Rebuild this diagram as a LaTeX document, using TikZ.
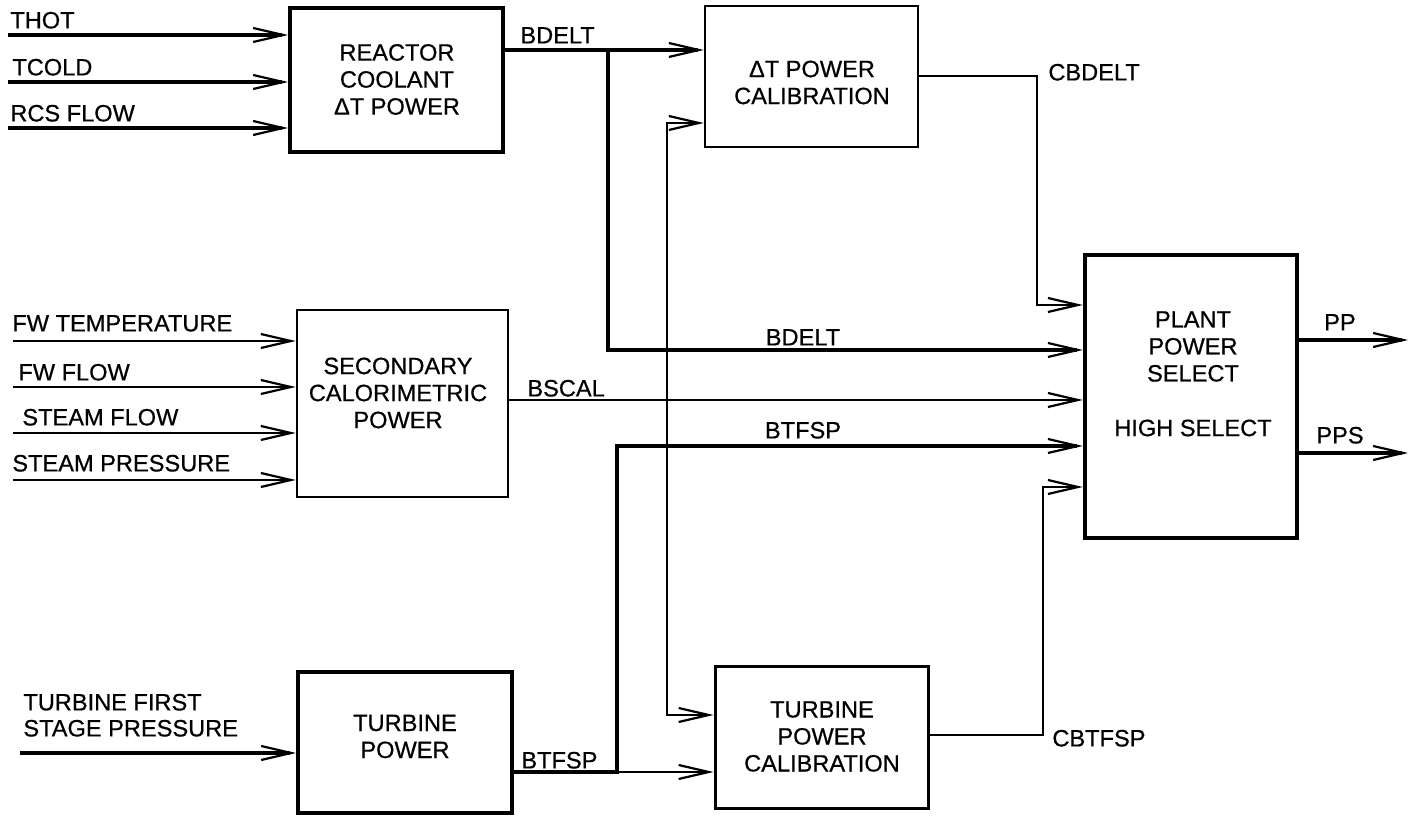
\documentclass[tikz,border=0pt]{standalone}
\usepackage{fontspec}
\setmainfont{Liberation Sans}[FakeBold=0.6]
\usetikzlibrary{arrows.meta}
\begin{document}
\begin{tikzpicture}[x=0.5pt,y=-0.5pt,
  every node/.style={font=\fontsize{11.8}{13.5}\selectfont, inner sep=0pt},
  lbl/.style={anchor=base west},
  lblc/.style={anchor=base},
  btxt/.style={align=center, anchor=center},
  boxthick/.style={draw, line width=2pt, rectangle},
  boxthin/.style={draw, line width=1.3pt, rectangle},
  thickline/.style={line width=2pt},
  medline/.style={line width=1.3pt},
  thinline/.style={line width=1.1pt},
  arr/.style={-{Straight Barb[length=15pt,width=7pt,line width=1.1pt]}},
  arrboth/.style={{Straight Barb[length=15pt,width=7pt,line width=1.1pt]}-{Straight Barb[length=15pt,width=7pt,line width=1.1pt]}}
]
\fill[white] (0,0) rectangle (1409,817);
\useasboundingbox (0,0) rectangle (1409,817);

% boxes
\node[boxthick, minimum width=106.5pt, minimum height=72pt] (reactor) at (396.5,80) {};
\node[boxthin, minimum width=106.5pt, minimum height=70.5pt] (dtcal) at (811.5,76.5) {};
\node[boxthin, minimum width=105.5pt, minimum height=93.5pt] (secondary) at (402.5,403.5) {};
\node[boxthick, minimum width=107pt, minimum height=70.5pt] (turbine) at (405,742.5) {};
\node[draw, line width=1.5pt, minimum width=106.5pt, minimum height=70.5pt] (tpcal) at (821.5,737.5) {};
\node[draw, line width=2.2pt, minimum width=106pt, minimum height=141.5pt] (plant) at (1191,396.5) {};

% box texts
\node[btxt] (reactortxt) at (397,79.5) {REACTOR\\COOLANT\\ΔT POWER};
\node[btxt] (dtcaltxt) at (812,82.5) {ΔT POWER\\CALIBRATION};
\node[btxt] (secondarytxt) at (398,393) {SECONDARY\\CALORIMETRIC\\POWER};
\node[btxt] (turbinetxt) at (405,736.5) {TURBINE\\POWER};
\node[btxt] (tpcaltxt) at (822,736.5) {TURBINE\\POWER\\CALIBRATION};
\node[btxt] (planttxt) at (1193,346.5) {PLANT\\POWER\\SELECT};
\node[btxt] (hightxt) at (1193,428) {HIGH SELECT};

% input labels
\node[lbl] (thotl) at (10,28.4) {THOT};
\node[lbl] (tcoldl) at (12,75.4) {TCOLD};
\node[lbl] (rcsl) at (10,121.4) {RCS FLOW};
\node[lbl] (fwtl) at (12,331.4) {FW TEMPERATURE};
\node[lbl] (fwfl) at (18,380.4) {FW FLOW};
\node[lbl] (sfl) at (22,425.4) {STEAM FLOW};
\node[lbl] (spl) at (12,471.4) {STEAM PRESSURE};
\node[lbl] (tfs1) at (23,710.4) {TURBINE FIRST};
\node[lbl] (tfs2) at (23,736.4) {STAGE PRESSURE};

% signal labels
\node[lbl] (bdelt1) at (520,43.4) {BDELT};
\node[lbl] (cbdelt) at (1048,80.4) {CBDELT};
\node[lblc] (bdelt2) at (803,345.4) {BDELT};
\node[lbl] (bscal) at (527,396.4) {BSCAL};
\node[lblc] (btfsp1) at (803,438.4) {BTFSP};
\node[lbl] (btfsp2) at (521,768.4) {BTFSP};
\node[lbl] (cbtfsp) at (1052,746.4) {CBTFSP};
\node[lblc] (ppl) at (1340,330.4) {PP};
\node[lblc] (ppsl) at (1340,443.4) {PPS};

% inputs
\coordinate (thot) at (8,35);
\coordinate (tcold) at (8,82);
\coordinate (rcs) at (8,128);
\draw[thickline,arr] (thot) -- (thot -| reactor.west);
\draw[thickline,arr] (tcold) -- (tcold -| reactor.west);
\draw[thickline,arr] (rcs) -- (rcs -| reactor.west);

\coordinate (fwt) at (13,341);
\coordinate (fwf) at (13,387);
\coordinate (sf) at (13,433);
\coordinate (sp) at (13,480);
\draw[medline,arr] (fwt) -- (fwt -| secondary.west);
\draw[medline,arr] (fwf) -- (fwf -| secondary.west);
\draw[medline,arr] (sf) -- (sf -| secondary.west);
\draw[medline,arr] (sp) -- (sp -| secondary.west);

\coordinate (tfs) at (20,753);
\draw[thickline,arr] (tfs) -- (tfs -| turbine.west);

% BDELT
\coordinate (bd1) at (608,50);
\coordinate (bd2) at (608,350);
\draw[thickline,arr] (reactor.east |- bd1) -- (bd1) -- (bd2) -- (plant.west |- bd2);
\draw[thickline,arr] (bd1) -- (dtcal.west |- bd1);

% cross connection
\coordinate (c1) at (667,123);
\coordinate (c2) at (667,715);
\draw[medline,arrboth] (dtcal.west |- c1) -- (c1) -- (c2) -- (tpcal.west |- c2);

% CBDELT
\coordinate (cb1) at (1037,76);
\coordinate (cb2) at (1037,305);
\draw[thinline,arr] (dtcal.east |- cb1) -- (cb1) -- (cb2) -- (plant.west |- cb2);

% BSCAL
\coordinate (bs) at (700,400);
\draw[thinline,arr] (secondary.east |- bs) -- (plant.west |- bs);

% BTFSP
\coordinate (bt1) at (617,772);
\coordinate (bt2) at (617,446);
\draw[thickline,arr] (turbine.east |- bt1) -- (bt1) -- (bt2) -- (plant.west |- bt2);
\draw[medline,arr] (bt1) -- (tpcal.west |- bt1);

% CBTFSP
\coordinate (ct1) at (1043,735);
\coordinate (ct2) at (1043,487);
\draw[thinline,arr] (tpcal.east |- ct1) -- (ct1) -- (ct2) -- (plant.west |- ct2);

% outputs
\coordinate (pp) at (1408,340);
\coordinate (pps) at (1408,453);
\draw[thickline,arr] (plant.east |- pp) -- (pp);
\draw[line width=1.6pt,arr] (plant.east |- pps) -- (pps);
\end{tikzpicture}
\end{document}
